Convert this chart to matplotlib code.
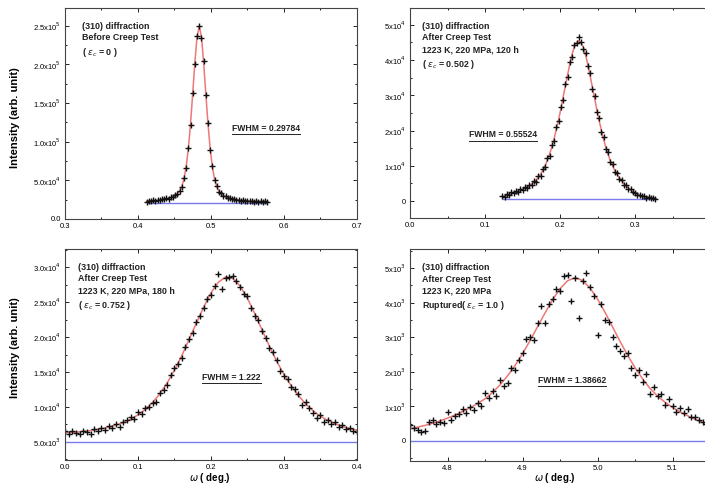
import numpy as np
import matplotlib
matplotlib.use('Agg')
import matplotlib.pyplot as plt
from matplotlib.ticker import AutoMinorLocator

plt.rcParams['font.family'] = ['Liberation Sans', 'DejaVu Sans']

# ---- (a) before creep test ----
omega1 = np.linspace(0.412, 0.577, 56)
meas1 = [.225, .238, .230, .241, .236, .247, .243, .255, .252, .266, .264, .281, .284, .309,
         .320, .368, .412, .527, .661, .918, 1.211, 1.632, 2.010, 2.371, 2.50, 2.344, 2.040,
         1.601, 1.240, .893, .684, .508, .427, .353, .331, .298, .291, .271, .273, .258, .259,
         .247, .250, .238, .244, .232, .239, .229, .236, .226, .233, .222, .230, .221, .227, .223]
fit1 = [.231, .233, .235, .237, .240, .242, .246, .251, .256, .262, .269, .276, .288, .303,
        .326, .360, .420, .516, .673, .905, 1.227, 1.617, 2.025, 2.358, 2.49, 2.358, 2.025,
        1.617, 1.227, .905, .673, .516, .420, .360, .326, .303, .288, .276, .269, .262, .256,
        .251, .246, .242, .240, .237, .235, .233, .231, .230, .228, .228, .226, .226, .224, .224]
base1 = 0.205

# ---- (b) 1223 K, 220 MPa, 120 h ----
omega2 = np.linspace(0.123, 0.327, 69)
meas2 = [0.14, 0.12, 0.19, 0.17, 0.25, 0.22, 0.29, 0.26, 0.35, 0.31, 0.41, 0.36, 0.47, 0.45,
         0.58, 0.55, 0.72, 0.71, 0.91, 0.96, 1.21, 1.29, 1.60, 1.71, 2.09, 2.26, 2.67, 2.88,
         3.31, 3.52, 3.95, 4.10, 4.42, 4.48, 4.66, 4.52, 4.30, 4.21, 3.82, 3.63, 3.18, 2.98,
         2.54, 2.36, 1.95, 1.81, 1.47, 1.38, 1.10, 1.04, 0.83, 0.79, 0.62, 0.60, 0.47, 0.45,
         0.34, 0.33, 0.25, 0.24, 0.18, 0.18, 0.13, 0.14, 0.10, 0.12, 0.08, 0.10, 0.07]
fit2 = [0.12, 0.15, 0.18, 0.20, 0.22, 0.24, 0.26, 0.28, 0.31, 0.34, 0.37, 0.40, 0.44, 0.48,
        0.54, 0.60, 0.67, 0.76, 0.87, 1.00, 1.15, 1.33, 1.53, 1.76, 2.02, 2.30, 2.60, 2.93,
        3.25, 3.57, 3.88, 4.15, 4.37, 4.50, 4.55, 4.50, 4.37, 4.15, 3.88, 3.57, 3.25, 2.93,
        2.60, 2.30, 2.02, 1.76, 1.53, 1.33, 1.15, 1.00, 0.87, 0.76, 0.66, 0.58, 0.50, 0.43,
        0.37, 0.32, 0.27, 0.23, 0.20, 0.17, 0.15, 0.13, 0.12, 0.11, 0.10, 0.09, 0.08]
base2 = 0.05

# ---- (c) 1223 K, 220 MPa, 180 h ----
omega3 = np.linspace(0.0, 0.4, 81)
meas3 = [.66, .61, .65, .63, .62, .66, .64, .62, .68, .66, .70, .67, .73, .70, .75, .71, .79,
         .81, .86, .83, .93, .90, .98, 1.00, 1.05, 1.07, 1.20, 1.24, 1.32, 1.45, 1.55, 1.62,
         1.70, 1.86, 1.97, 2.06, 2.22, 2.30, 2.41, 2.55, 2.60, 2.73, 2.90, 2.68, 2.84, 2.86,
         2.88, 2.80, 2.71, 2.62, 2.58, 2.41, 2.30, 2.25, 2.08, 1.98, 1.85, 1.79, 1.67, 1.52,
         1.44, 1.40, 1.29, 1.25, 1.18, 1.03, 1.07, .98, .92, .84, .88, .78, .82, .76, .78,
         .72, .74, .69, .70, .66, .64]
omega3_fit = np.linspace(0.0, 0.4, 41)
fit3 = [.630, .636, .645, .656, .670, .688, .711, .740, .776, .824, .886, .964, 1.063, 1.190,
        1.343, 1.525, 1.731, 1.964, 2.198, 2.426, 2.631, 2.782, 2.858, 2.837, 2.730, 2.554,
        2.336, 2.103, 1.872, 1.658, 1.464, 1.302, 1.164, 1.040, .945, .868, .808, .760, .722,
        .692, .668]
base3 = 0.5

# ---- (d) 1223 K, 220 MPa, ruptured ----
omega4 = np.linspace(4.75, 5.15, 81)
meas4 = [.45, .38, .33, .25, .28, .55, .62, .50, .56, .52, .85, .60, .72, .78, .92, .80, .98,
         .90, 1.10, 1.00, 1.38, 1.25, 1.45, 1.30, 1.75, 1.60, 1.68, 2.10, 2.05, 2.35, 2.55,
         2.95, 3.00, 2.92, 3.42, 3.90, 3.40, 3.95, 4.10, 4.38, 4.32, 4.78, 4.80, 4.05, 4.70,
         3.55, 4.62, 4.85, 4.45, 4.20, 3.05, 3.95, 3.50, 3.45, 3.00, 2.75, 2.60, 2.45, 2.55,
         2.10, 1.90, 2.05, 1.70, 1.95, 1.35, 1.55, 1.30, 1.35, 1.05, 1.20, 1.00, .85, .95,
         .80, .92, .68, .70, .62, .55, .48, .40]
omega4_fit = np.linspace(4.75, 5.15, 41)
fit4 = [0.35, 0.40, 0.45, 0.51, 0.58, 0.66, 0.75, 0.85, 0.96, 1.08, 1.22, 1.40, 1.62, 1.88,
        2.18, 2.52, 2.90, 3.30, 3.70, 4.08, 4.40, 4.63, 4.72, 4.64, 4.42, 4.10, 3.72, 3.30,
        2.88, 2.48, 2.12, 1.80, 1.52, 1.30, 1.12, 0.97, 0.84, 0.73, 0.63, 0.54, 0.46]
base4 = 0.0

# tick labels
yt1 = [0, 0.5, 1.0, 1.5, 2.0, 2.5]
yl1 = ['0.0', r'5.0x10$^4$', r'1.0x10$^5$', r'1.5x10$^5$', r'2.0x10$^5$', r'2.5x10$^5$']
yt2 = [0, 1, 2, 3, 4, 5]
yl2 = ['0', r'1x10$^4$', r'2x10$^4$', r'3x10$^4$', r'4x10$^4$', r'5x10$^4$']
yt3 = [0.5, 1.0, 1.5, 2.0, 2.5, 3.0]
yl3 = [r'5.0x10$^3$', r'1.0x10$^4$', r'1.5x10$^4$', r'2.0x10$^4$', r'2.5x10$^4$', r'3.0x10$^4$']
yt4 = [0, 1, 2, 3, 4, 5]
yl4 = ['0', r'1x10$^3$', r'2x10$^3$', r'3x10$^3$', r'4x10$^3$', r'5x10$^3$']
xt1 = [0.3, 0.4, 0.5, 0.6, 0.7]
xl1 = ['0.3', '0.4', '0.5', '0.6', '0.7']
xt2 = [0.0, 0.1, 0.2, 0.3, 0.4]
xl2 = ['0.0', '0.1', '0.2', '0.3', '']
xl3 = ['0.0', '0.1', '0.2', '0.3', '0.4']
xt4 = [4.8, 4.9, 5.0, 5.1]
xl4 = ['4.8', '4.9', '5.0', '5.1']

notes = ["(310) diffraction\nBefore Creep Test\n( $\\varepsilon_c$ = 0 )",
         "(310) diffraction\nAfter Creep Test\n1223 K, 220 MPa, 120 h\n( $\\varepsilon_c$ = 0.502 )",
         "(310) diffraction\nAfter Creep Test\n1223 K, 220 MPa, 180 h\n( $\\varepsilon_c$ = 0.752 )",
         "(310) diffraction\nAfter Creep Test\n1223 K, 220 MPa\nRuptured( $\\varepsilon_c$ = 1.0 )"]
fwhm = ['FWHM = 0.29784', 'FWHM = 0.55524', 'FWHM = 1.222', 'FWHM = 1.38662']

fig = plt.figure(figsize=(7.05, 4.91), dpi=100)

panels = [
    ([0.0922, 0.554, 0.414, 0.430], (0.3, 0.7), (0, 2.73), xt1, xl1, yt1, yl1,
     omega1, meas1, omega1, fit1, base1, (0.69, 0.43), 0.058),
    ([0.5816, 0.556, 0.4255, 0.428], (0.0, 0.4), (-0.48, 5.48), xt2, xl2, yt2, yl2,
     omega2, meas2, omega2, fit2, base2, (0.31, 0.395), 0.04),
    ([0.0922, 0.063, 0.414, 0.430], (0.0, 0.4), (0.24, 3.26), xt2, xl3, yt3, yl3,
     omega3, meas3, omega3_fit, fit3, base3, (0.57, 0.39), 0.045),
    ([0.5816, 0.061, 0.4255, 0.432], (4.75, 5.15), (-0.58, 5.55), xt4, xl4, yt4, yl4,
     omega4, meas4, omega4_fit, fit4, base4, (0.54, 0.38), 0.04),
]

fw_texts = []
for i, (rect, xlim, ylim, xt, xlab, yt, ylab, xm, ym, xf, yf, base, fpos, tx) in enumerate(panels):
    ax = fig.add_axes(rect)
    if i in (2, 3):
        ax.axhline(base, color='#7a7aee', lw=1.0)
    else:
        ax.hlines(base, xf[0], xf[-1], color='#7a7aee', lw=1.0)
    ax.plot(xf, yf, color='#ee7777', lw=1.1)
    ax.plot(xm, ym, '+', color='#111111', ms=4, mew=1.0)
    ax.set_xlim(*xlim)
    ax.set_ylim(*ylim)
    ax.set_xticks(xt)
    ax.set_xticklabels(xlab)
    ax.set_yticks(yt)
    ax.set_yticklabels(ylab)
    ax.xaxis.set_minor_locator(AutoMinorLocator(2))
    ax.yaxis.set_minor_locator(AutoMinorLocator(2))
    ax.tick_params(which='both', direction='in', top=True, right=True, labelsize=5.5,
                   width=0.6, pad=3)
    ax.tick_params(which='major', length=3)
    ax.tick_params(which='minor', length=1.6)
    for s in ax.spines.values():
        s.set_linewidth(0.8)
        s.set_color('#444444')
    ax.text(tx, 0.935, notes[i], transform=ax.transAxes, va='top', ha='left',
            fontsize=6.4, fontweight='bold', linespacing=1.4, color='#222222')
    t = ax.text(fpos[0], fpos[1], fwhm[i], transform=ax.transAxes, ha='center',
                va='center', fontsize=6.2, fontweight='bold', color='#222222')
    fw_texts.append((ax, t))

fig.text(0.021, 0.76, 'Intensity (arb. unit)', rotation=90, ha='center', va='center',
         fontsize=8, fontweight='bold')
fig.text(0.021, 0.291, 'Intensity (arb. unit)', rotation=90, ha='center', va='center',
         fontsize=8, fontweight='bold')
fig.text(0.298, 0.012, r'$\omega$ ( deg.)', ha='center', va='bottom', fontsize=7,
         fontweight='bold')
fig.text(0.787, 0.012, r'$\omega$ ( deg.)', ha='center', va='bottom', fontsize=7,
         fontweight='bold')

# underline the FWHM labels
fig.canvas.draw()
for ax, t in fw_texts:
    bb = t.get_window_extent().transformed(ax.transAxes.inverted())
    ax.plot([bb.x0, bb.x1], [bb.y0 - 0.005, bb.y0 - 0.005], transform=ax.transAxes,
            color='#222222', lw=0.7)

fig.savefig('out.png', dpi=100)
